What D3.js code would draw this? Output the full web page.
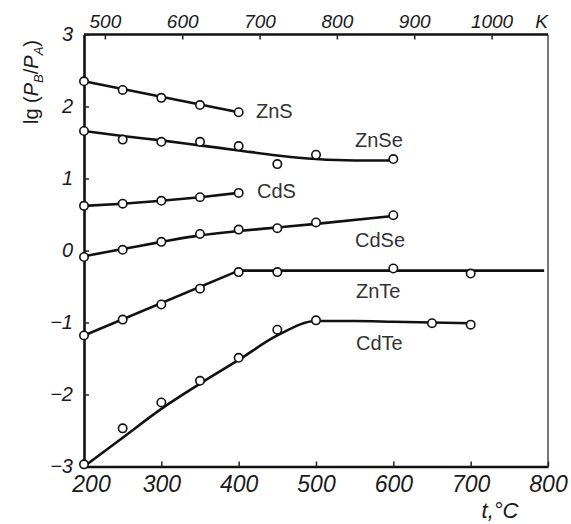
<!DOCTYPE html>
<html>
<head>
<meta charset="utf-8">
<script src="https://cdn.jsdelivr.net/npm/d3@7"></script>
<style>
  body { margin: 0; background: #fff; }
  text { font-family: "Liberation Sans", Arial, sans-serif; }
</style>
</head>
<body>
<div id="chart"></div>
<script>
// ZnS
var znsT = [200, 250, 300, 350, 400]
var znsV = [2.35, 2.23, 2.12, 2.02, 1.92]
var znsFitT = [200, 400]
var znsFitV = [2.35, 1.92]
// ZnSe
var znseT = [200, 250, 300, 350, 400, 450, 500, 600]
var znseV = [1.66, 1.54, 1.51, 1.51, 1.45, 1.20, 1.33, 1.27]
var znseFitT = [200, 250, 300, 350, 400, 450, 500, 550, 600]
var znseFitV = [1.66, 1.59, 1.53, 1.46, 1.39, 1.32, 1.27, 1.25, 1.25]
// CdS
var cdsT = [200, 250, 300, 350, 400]
var cdsV = [0.62, 0.65, 0.69, 0.74, 0.80]
var cdsFitT = cdsT
var cdsFitV = cdsV
// CdSe
var cdseT = [200, 250, 300, 350, 400, 450, 500, 600]
var cdseV = [-0.09, 0.01, 0.12, 0.23, 0.29, 0.31, 0.39, 0.49]
var cdseFitT = [200, 250, 300, 350, 400, 450, 500, 600]
var cdseFitV = [-0.08, 0.02, 0.12, 0.21, 0.27, 0.32, 0.37, 0.48]
// ZnTe
var znteT = [200, 250, 300, 350, 400, 450, 600, 700]
var znteV = [-1.18, -0.96, -0.75, -0.53, -0.30, -0.30, -0.25, -0.32]
var znteFitT = [200, 400, 795]
var znteFitV = [-1.18, -0.28, -0.28]
// CdTe
var cdteT = [200, 250, 300, 350, 400, 450, 500, 650, 700]
var cdteV = [-2.97, -2.47, -2.11, -1.81, -1.49, -1.10, -0.97, -1.01, -1.03]
var cdteFitT = [200, 250, 300, 350, 400, 450, 500, 550, 600, 700]
var cdteFitV = [-3.0, -2.6, -2.2, -1.85, -1.52, -1.18, -0.98, -0.98, -0.99, -1.01]

var names = ['ZnS', 'ZnSe', 'CdS', 'CdSe', 'ZnTe', 'CdTe']
var xTicksC = [200, 300, 400, 500, 600, 700, 800]
var xTicksK = [500, 600, 700, 800, 900, 1000]
var yTicks = [-3, -2, -1, 0, 1, 2, 3]

var series = [
  { pt: znsT, pv: znsV, ft: znsFitT, fv: znsFitV, curve: d3.curveLinear, lx: 256, ly: 118 },
  { pt: znseT, pv: znseV, ft: znseFitT, fv: znseFitV, curve: d3.curveMonotoneX, lx: 355, ly: 147 },
  { pt: cdsT, pv: cdsV, ft: cdsFitT, fv: cdsFitV, curve: d3.curveMonotoneX, lx: 257, ly: 198 },
  { pt: cdseT, pv: cdseV, ft: cdseFitT, fv: cdseFitV, curve: d3.curveMonotoneX, lx: 355, ly: 247 },
  { pt: znteT, pv: znteV, ft: znteFitT, fv: znteFitV, curve: d3.curveLinear, lx: 356, ly: 298 },
  { pt: cdteT, pv: cdteV, ft: cdteFitT, fv: cdteFitV, curve: d3.curveMonotoneX, lx: 356, ly: 350 }
]

var width = 571, height = 524
var svg = d3.select('#chart').append('svg')
  .attr('width', width).attr('height', height)

var x = d3.scaleLinear().domain([200, 800]).range([84, 548])
var y = d3.scaleLinear().domain([-3, 3]).range([466.5, 34.5])

// frame: right edge
svg.append('line')
  .attr('x1', x(800)).attr('x2', x(800))
  .attr('y1', y(3)).attr('y2', y(-3))
  .attr('stroke', '#555').attr('stroke-width', 1.6)

// bottom axis
var gx = svg.append('g')
  .attr('transform', 'translate(0,' + y(-3) + ')')
  .call(d3.axisBottom(x).tickValues(xTicksC).tickSize(-5).tickSizeOuter(0).tickPadding(9))
gx.selectAll('text').attr('dx', function(d) { return d === 200 ? 7 : 0 })

// top axis (Kelvin)
var gt = svg.append('g')
  .attr('transform', 'translate(0,' + y(3) + ')')
  .call(d3.axisTop(x).tickValues(xTicksK.map(function(k) { return k - 273 }))
    .tickFormat(function(d) { return d + 273 }).tickSize(-5).tickSizeOuter(0).tickPadding(7))
gt.select('.domain').attr('d', 'M' + x(200) + ',0H' + x(800))

// left axis
var gy = svg.append('g')
  .attr('transform', 'translate(' + x(200) + ',0)')
  .call(d3.axisLeft(y).tickValues(yTicks).tickSize(-5).tickSizeOuter(0).tickPadding(11)
    .tickFormat(function(d) { return d < 0 ? '\u2212' + Math.abs(d) : d }))

svg.selectAll('.domain').attr('stroke', '#111').attr('stroke-width', 2.6)
svg.selectAll('.tick line').attr('stroke', '#222').attr('stroke-width', 1.5)
svg.selectAll('.tick text')
  .attr('fill', '#1a1a1a')
  .style('font-style', 'italic')
  .style('font-family', '"Liberation Sans", Arial, sans-serif')
gx.selectAll('text').style('font-size', '23px')
gt.selectAll('text').style('font-size', '19px')
gy.selectAll('text').style('font-size', '20px')

svg.append('text')
  .attr('x', x(800)).attr('y', y(3) - 7)
  .attr('text-anchor', 'end')
  .attr('font-size', 19).attr('font-style', 'italic').attr('fill', '#1a1a1a')
  .text('K')

// axis titles
svg.append('text')
  .attr('x', 500).attr('y', 518)
  .attr('text-anchor', 'middle')
  .attr('font-size', 22).attr('font-style', 'italic').attr('fill', '#1a1a1a')
  .text('t,°C')

var yt = svg.append('text')
  .attr('transform', 'translate(38,82) rotate(-90)')
  .attr('text-anchor', 'middle')
  .attr('font-size', 20).attr('fill', '#1a1a1a')
yt.append('tspan').text('lg (')
yt.append('tspan').attr('font-style', 'italic').text('P')
yt.append('tspan').attr('font-size', 13).attr('dy', 5).attr('font-style', 'italic').text('B')
yt.append('tspan').attr('dy', -5).text('/')
yt.append('tspan').attr('font-style', 'italic').text('P')
yt.append('tspan').attr('font-size', 13).attr('dy', 5).attr('font-style', 'italic').text('A')
yt.append('tspan').attr('dy', -5).text(')')

// curves and markers
series.forEach(function(s, i) {
  var fit = s.ft.map(function(t, j) { return [t, s.fv[j]] })
  var pts = s.pt.map(function(t, j) { return [t, s.pv[j]] })
  var line = d3.line()
    .x(function(d) { return x(d[0]) })
    .y(function(d) { return y(d[1]) })
    .curve(s.curve)
  svg.append('path')
    .attr('d', line(fit))
    .attr('fill', 'none')
    .attr('stroke', '#111')
    .attr('stroke-width', 2.6)
    .attr('stroke-linejoin', 'round')
  svg.selectAll('.pt' + i).data(pts).enter().append('circle')
    .attr('cx', function(d) { return x(d[0]) })
    .attr('cy', function(d) { return y(d[1]) })
    .attr('r', 4.2)
    .attr('fill', '#fff')
    .attr('stroke', '#111')
    .attr('stroke-width', 1.6)
  svg.append('text')
    .attr('x', s.lx).attr('y', s.ly)
    .attr('font-size', 20).attr('fill', '#333')
    .text(names[i])
})
</script>
</body>
</html>
